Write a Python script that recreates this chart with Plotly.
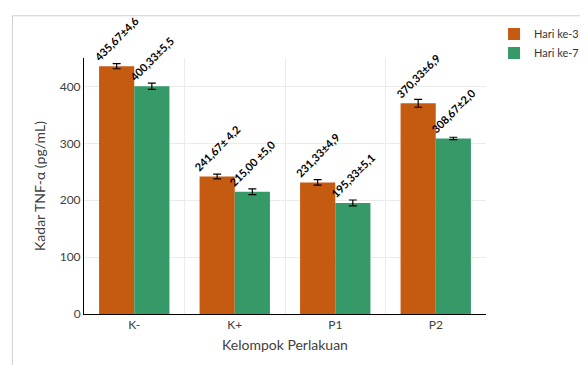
import plotly.graph_objects as go

categories = ["K-", "K+", "P1", "P2"]
hari3 = [435.67, 241.67, 231.33, 370.33]
hari3_err = [4.6, 4.2, 4.9, 6.9]
hari7 = [400.33, 215.00, 195.33, 308.67]
hari7_err = [5.5, 5.0, 5.1, 2.0]
labels3 = ["435,67±4,6", "241,67± 4,2", "231,33±4,9", "370,33±6,9"]
labels7 = ["400,33±5,5", "215,00 ±5,0", "195,33±5,1", "308,67±2,0"]
yticks = [0, 100, 200, 300, 400]

xpos = list(range(len(categories)))
font = "Lato, Open Sans, sans-serif"

fig = go.Figure()
fig.add_trace(go.Bar(
    x=xpos, y=hari3, name="Hari ke-3", marker_color="#C55A11",
    marker_line_width=0,
    error_y=dict(type="data", array=hari3_err, color="black", thickness=1.2, width=4),
    text=labels3, textposition="outside", textangle=-45, cliponaxis=False,
    constraintext="none",
    textfont=dict(family=font, size=11, color="black", weight="bold"),
))
fig.add_trace(go.Bar(
    x=xpos, y=hari7, name="Hari ke-7", marker_color="#359A68",
    marker_line_width=0,
    error_y=dict(type="data", array=hari7_err, color="black", thickness=1.2, width=4),
    text=labels7, textposition="outside", textangle=-45, cliponaxis=False,
    constraintext="none",
    textfont=dict(family=font, size=11, color="black", weight="bold"),
))

fig.update_layout(
    width=588, height=365,
    margin=dict(l=76, r=93, t=45, b=59),
    barmode="group", bargap=0.3, bargroupgap=0,
    plot_bgcolor="white", paper_bgcolor="white",
    font=dict(family=font, size=12, color="#404040"),
    legend=dict(x=1.02, y=1.15, xanchor="left", yanchor="top",
                font=dict(size=11, color="#333333"), itemwidth=30, tracegroupgap=6),
    xaxis=dict(
        range=[-0.5, 3.5], tickmode="array", tickvals=xpos, ticktext=categories,
        showgrid=False, showline=True, linecolor="black", linewidth=1, ticks="",
        title=dict(text="Kelompok Perlakuan", standoff=8),
        minor=dict(tick0=0.5, dtick=1, showgrid=True, gridcolor="#ebebeb", ticks=""),
    ),
    yaxis=dict(
        range=[0, 450], tickvals=yticks, showgrid=True, gridcolor="#ebebeb",
        showline=True, linecolor="black", linewidth=1, zeroline=False,
        title=dict(text="Kadar TNF-α (pg/mL)", standoff=10),
    ),
    shapes=[dict(type="rect", xref="paper", yref="paper",
                 x0=-0.178, x1=1.3, y0=-0.4, y1=1.165,
                 line=dict(color="#d0d0d0", width=1), layer="above")],
)

fig.write_html("out.html")
